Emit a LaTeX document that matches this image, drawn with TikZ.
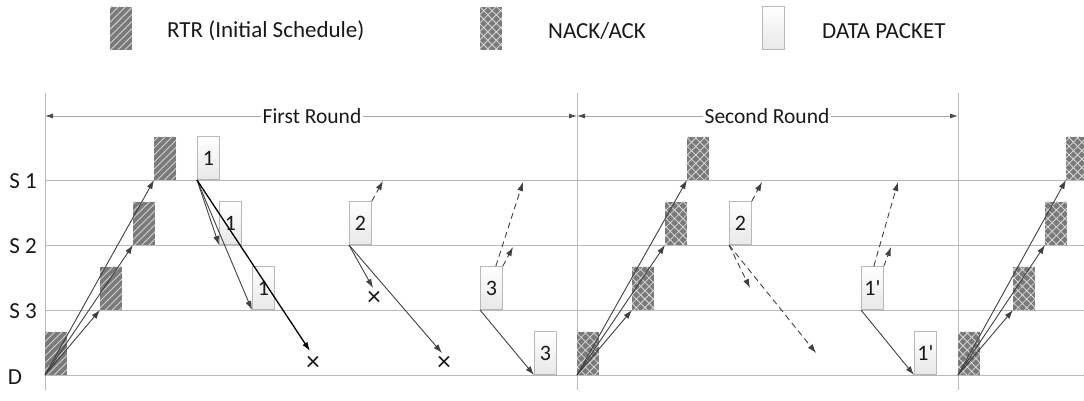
\documentclass[tikz,border=0pt]{standalone}
\usepackage{fontspec}
\setmainfont{Carlito}
\usetikzlibrary{arrows.meta,patterns.meta}

\tikzset{
  txt/.style={inner sep=1pt, font=\fontsize{21.5}{25}\selectfont, text=black!90},
  bigtxt/.style={txt, font=\fontsize{23}{27}\selectfont},
  gridline/.style={draw=black!28, line width=0.8pt},
  box/.style={minimum width=22pt, minimum height=43pt, inner sep=0pt, anchor=south west},
  rtrbox/.style={box, fill=black!52,
    postaction={pattern={Lines[angle=45,distance=5pt,line width=0.9pt]}, pattern color=black!18}},
  nackbox/.style={box, fill=black!52,
    postaction={pattern={Lines[angle=45,distance=6pt,line width=0.8pt]}, pattern color=black!15},
    postaction={pattern={Lines[angle=-45,distance=6pt,line width=0.8pt]}, pattern color=black!15}},
  databox/.style={box, draw=black!28, line width=0.8pt, top color=white, bottom color=black!9,
    font=\fontsize{22}{26}\selectfont, text=black!90},
  link/.style={draw=black!75, line width=0.9pt, -{Latex[length=9pt,width=6pt]}},
  boldlink/.style={link, draw=black, line width=1.3pt},
  dlink/.style={link, dash pattern=on 6pt off 4pt},
  span/.style={draw=black!35, line width=0.8pt, -{Latex[length=8pt,width=5pt,color=black!70]}},
  lost/.style={inner sep=0pt, font=\fontsize{27}{30}\selectfont, text=black!90},
}

\begin{document}
\begin{tikzpicture}[x=1pt,y=-1pt]
\useasboundingbox (0,0) rectangle (1084,401);

% legend
\node[rtrbox] (legR) at (110,50) {};
\node[bigtxt, anchor=west] (legRt) at (166,31) {RTR (Initial Schedule)};
\node[nackbox] (legN) at (480,50) {};
\node[bigtxt, anchor=west] (legNt) at (547,31) {NACK/ACK};
\node[databox] (legD) at (762,50) {};
\node[bigtxt, anchor=west] (legDt) at (821,31) {DATA PACKET};

% time lines of the nodes and round boundaries
\foreach \yy in {180,245,310,375}
  \draw[gridline] (45,\yy) -- (1084,\yy);
\foreach \xx in {45,577,958}
  \draw[gridline] (\xx,93) -- (\xx,390);

% row labels
\node[bigtxt] (lS1) at (23,181) {S 1};
\node[bigtxt] (lS2) at (23,246) {S 2};
\node[bigtxt] (lS3) at (23,311) {S 3};
\node[bigtxt] (lD) at (15,377) {D};

% round spans
\node[txt] (rnd1) at (312,116) {First Round};
\coordinate (rnd1l) at (45,116);
\coordinate (rnd1r) at (577,116);
\draw[span] (rnd1.west) -- (rnd1l);
\draw[span] (rnd1.east) -- (rnd1r);
\node[txt] (rnd2) at (767,116) {Second Round};
\coordinate (rnd2l) at (577,116);
\coordinate (rnd2r) at (958,116);
\draw[span] (rnd2.west) -- (rnd2l);
\draw[span] (rnd2.east) -- (rnd2r);

% ---------- first round ----------
\node[rtrbox] (rD) at (45,375) {};
\node[rtrbox] (r3) at (100,310) {};
\node[rtrbox] (r2) at (133,245) {};
\node[rtrbox] (r1) at (154,180) {};
\draw[link] (rD.south west) -- (r3.south west);
\draw[link] (rD.south west) -- (r2.south west);
\draw[link] (rD.south west) -- (r1.south west);

\node[databox] (a1) at (197,180) {1};
\node[databox] (a2) at (219,245) {1};
\node[databox] (a3) at (252,310) {1};
\coordinate (a4) at (310,351);
\node[lost] (xa) at (313,363) {×};
\draw[link] (a1.south west) -- (a2.south west);
\draw[link] (a1.south west) -- (a3.south west);
\draw[boldlink] (a1.south west) -- (a4);

\node[databox] (b2) at (349,245) {2};
\coordinate (b1) at (383,181);
\coordinate (b3) at (373,288);
\node[lost] (xb3) at (374,298) {×};
\coordinate (bD) at (442,353);
\node[lost] (xbD) at (444,363) {×};
\draw[dlink] (b2.north east) -- (b1);
\draw[link] (b2.south west) -- (b3);
\draw[link] (b2.south west) -- (bD);

\node[databox] (c3) at (480,310) {3};
\node[databox] (cD) at (534,375) {3};
\coordinate (c1) at (523,182);
\coordinate (c2) at (513,247);
\draw[dlink] ([xshift=-7pt]c3.north east) -- (c1);
\draw[dlink] (c3.north east) -- (c2);
\draw[link] (c3.south west) -- (cD.south west);

% ---------- second round ----------
\node[nackbox] (nD) at (577,375) {};
\node[nackbox] (n3) at (632,310) {};
\node[nackbox] (n2) at (665,245) {};
\node[nackbox] (n1) at (687,180) {};
\draw[link] (nD.south west) -- (n3.south west);
\draw[link] (nD.south west) -- (n2.south west);
\draw[link] (nD.south west) -- (n1.south west);

\node[databox] (d2) at (729,245) {2};
\coordinate (d1) at (762,182);
\coordinate (d3) at (750,288);
\coordinate (dD) at (816,353);
\draw[dlink] (d2.north east) -- (d1);
\draw[dlink] (d2.south west) -- (d3);
\draw[dlink] (d2.south west) -- (dD);

\node[databox] (e3) at (861,310) {1\textquotesingle};
\node[databox] (eD) at (914,375) {1\textquotesingle};
\coordinate (e1) at (898,182);
\coordinate (e2) at (891,247);
\draw[dlink] ([xshift=-10pt]e3.north east) -- (e1);
\draw[dlink] (e3.north east) -- (e2);
\draw[link] (e3.south west) -- (eD.south west);

% ---------- third round ----------
\node[nackbox] (mD) at (958,375) {};
\node[nackbox] (m3) at (1013,310) {};
\node[nackbox] (m2) at (1045,245) {};
\node[nackbox] (m1) at (1066,180) {};
\draw[link] (mD.south west) -- (m3.south west);
\draw[link] (mD.south west) -- (m2.south west);
\draw[link] (mD.south west) -- (m1.south west);
\end{tikzpicture}
\end{document}
